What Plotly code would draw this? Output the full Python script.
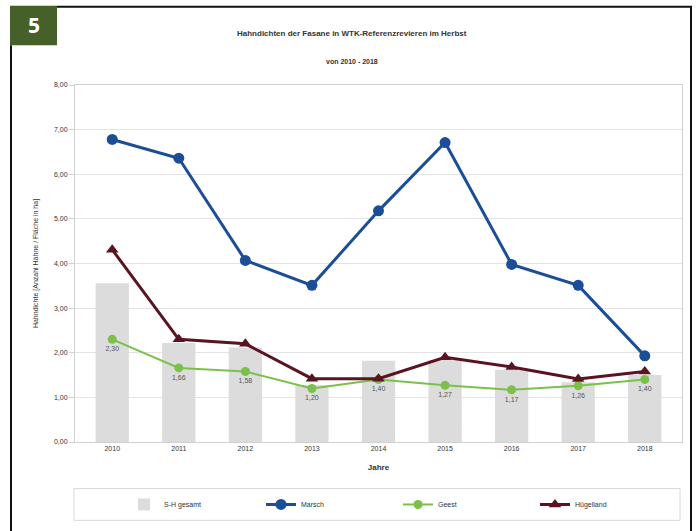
import plotly.graph_objects as go

years = ["2010", "2011", "2012", "2013", "2014", "2015", "2016", "2017", "2018"]
sh_gesamt = [3.56, 2.22, 2.12, 1.28, 1.82, 1.84, 1.62, 1.34, 1.50]
marsch = [6.78, 6.36, 4.07, 3.51, 5.18, 6.71, 3.98, 3.51, 1.93]
geest = [2.30, 1.66, 1.58, 1.20, 1.40, 1.27, 1.17, 1.26, 1.40]
huegelland = [4.31, 2.30, 2.20, 1.42, 1.42, 1.90, 1.68, 1.41, 1.58]
geest_labels = ["2,30", "1,66", "1,58", "1,20", "1,40", "1,27", "1,17", "1,26", "1,40"]
y_ticks = [0, 1, 2, 3, 4, 5, 6, 7, 8]

FONT = "Liberation Sans, Arial, sans-serif"

fig = go.Figure()
fig.add_trace(go.Bar(x=years, y=sh_gesamt, name="S-H gesamt",
                     marker=dict(color="#dcdcdc", line=dict(width=0)), width=0.5))
fig.add_trace(go.Scatter(x=years, y=marsch, name="Marsch", mode="lines+markers",
                         line=dict(color="#1c4e98", width=3),
                         marker=dict(symbol="circle", size=11, color="#1c4e98")))
fig.add_trace(go.Scatter(x=years, y=geest, name="Geest", mode="lines+markers+text",
                         line=dict(color="#7cc04c", width=2),
                         marker=dict(symbol="circle", size=9, color="#7cc04c"),
                         text=geest_labels, textposition="bottom center",
                         textfont=dict(size=7, color="#555555", family=FONT)))
fig.add_trace(go.Scatter(x=years, y=huegelland, name="Hügelland", mode="lines+markers",
                         line=dict(color="#5a1420", width=3),
                         marker=dict(symbol="triangle-up", size=11, color="#5a1420")))

shapes = []
L, R, T, B = 75, 682, 85, 445
W, H = R - L, B - T
def px(x): return (x - L) / W
def py(y): return (B - y) / H

shapes.append(dict(type="line", xref="paper", yref="paper", x0=px(57), x1=px(692), y0=py(6), y1=py(6),
                   line=dict(color="#111111", width=2)))
shapes.append(dict(type="line", xref="paper", yref="paper", x0=px(11), x1=px(11), y0=py(45), y1=py(540),
                   line=dict(color="#111111", width=2)))
shapes.append(dict(type="line", xref="paper", yref="paper", x0=px(691), x1=px(691), y0=py(6), y1=py(540),
                   line=dict(color="#111111", width=2)))
shapes.append(dict(type="rect", xref="paper", yref="paper", x0=px(10), x1=px(57), y0=py(5), y1=py(45),
                   fillcolor="#46602a", line=dict(width=0)))
shapes.append(dict(type="rect", xref="paper", yref="paper", x0=px(74), x1=px(680), y0=py(492), y1=py(524),
                   line=dict(color="#d8d8d8", width=1), fillcolor="rgba(0,0,0,0)"))

annotations = [
    dict(text="<b>5</b>", xref="paper", yref="paper", x=px(34), y=py(25), xanchor="center", yanchor="middle",
         showarrow=False, font=dict(size=21, color="white", family="Open Sans, sans-serif")),
    dict(text="<b>Hahndichten der Fasane in WTK-Referenzrevieren im Herbst</b>", xref="paper", yref="paper",
         x=px(352), y=py(33), xanchor="center", yanchor="middle", showarrow=False,
         font=dict(size=8, color="#333333", family=FONT)),
    dict(text="<b>von 2010 - 2018</b>", xref="paper", yref="paper",
         x=px(352), y=py(61), xanchor="center", yanchor="middle", showarrow=False,
         font=dict(size=7, color="#333333", family=FONT)),
]

fig.update_layout(
    width=696, height=531,
    margin=dict(l=L, r=696 - R, t=T, b=531 - B),
    paper_bgcolor="white", plot_bgcolor="white",
    separators=",.",
    font=dict(family=FONT, size=7, color="#333333"),
    showlegend=True,
    legend=dict(orientation="h", x=px(398), xanchor="center", y=py(508), yanchor="middle",
                bgcolor="rgba(0,0,0,0)", entrywidth=92, entrywidthmode="pixels", itemwidth=30,
                font=dict(size=7, color="#333333", family=FONT), traceorder="normal"),
    shapes=shapes, annotations=annotations,
    xaxis=dict(title=dict(text="<b>Jahre</b>", font=dict(size=8), standoff=12),
               tickfont=dict(size=7, color="#333333"), showline=True, linecolor="#d0d0d0",
               mirror=True, ticks="", showgrid=False),
    yaxis=dict(title=dict(text="Hahndichte [Anzahl Hähne / Fläche in ha]", font=dict(size=7), standoff=14),
               range=[0, 8], tickvals=y_ticks, tickformat=".2f",
               tickfont=dict(size=7, color="#333333"),
               showgrid=True, gridcolor="#e4e4e4", gridwidth=1,
               showline=True, linecolor="#d0d0d0", mirror=True,
               ticks="outside", ticklen=5, tickcolor="#d0d0d0", zeroline=False),
    bargap=0.5,
)

fig.write_html("out.html")
